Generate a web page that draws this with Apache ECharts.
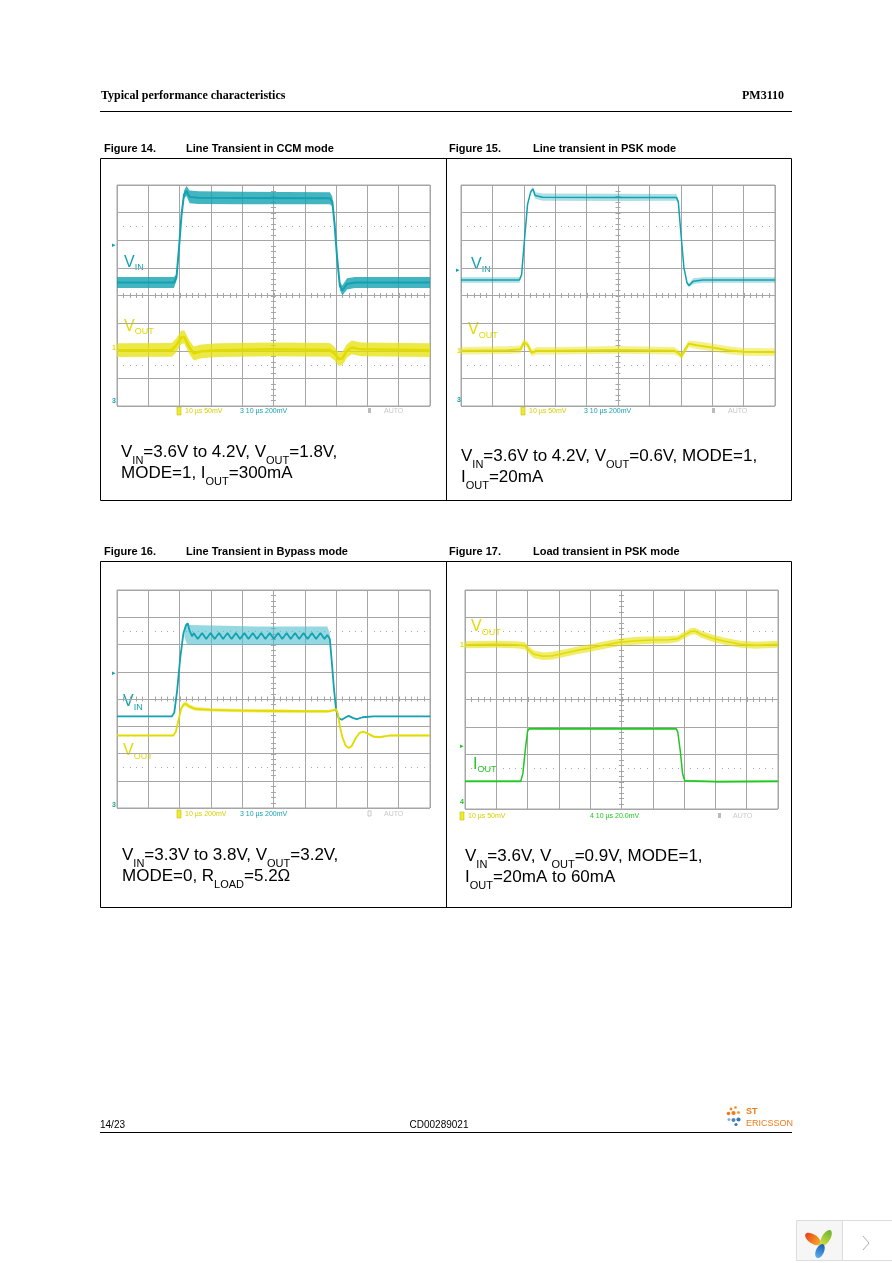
<!DOCTYPE html>
<html><head><meta charset="utf-8">
<script src="https://cdn.jsdelivr.net/npm/echarts@6/dist/echarts.min.js"></script>
<style>html,body{margin:0;padding:0;background:#fff}#c{width:892px;height:1263px}</style>
</head><body><div id="c"></div>
<script>
// ---------------- DATA (oscilloscope screen divisions: x 0..10, y 0..8) ----------------
// each point: [x, y, half-width of noise band]
const fig14Vin = [[0,4.47,0.2],[1.82,4.47,0.2],[1.9,4.65,0.12],[1.98,5.7,0.08],[2.06,6.9,0.08],[2.14,7.65,0.14],[2.22,7.78,0.18],[2.32,7.57,0.23],[2.6,7.54,0.23],[4,7.53,0.23],[6.8,7.52,0.22],[6.88,7.4,0.18],[6.95,6.6,0.08],[7.03,5.4,0.08],[7.12,4.35,0.14],[7.2,4.18,0.18],[7.35,4.42,0.2],[7.6,4.47,0.2],[10,4.47,0.2]];
const fig14Vout = [[0,2.02,0.25],[1.75,2.03,0.25],[1.9,2.2,0.25],[2.05,2.48,0.24],[2.15,2.5,0.24],[2.3,2.15,0.25],[2.45,1.9,0.25],[2.7,1.98,0.25],[3.2,2.02,0.25],[5,2.05,0.25],[6.8,2.03,0.25],[6.95,1.9,0.24],[7.08,1.7,0.24],[7.2,1.72,0.24],[7.35,2.0,0.24],[7.5,2.12,0.25],[7.8,2.05,0.25],[10,2.02,0.25]];
const fig15Vin = [[0,4.56,0.1],[1.86,4.56,0.1],[1.93,4.75,0.05],[2.02,6.0,0.03],[2.12,7.3,0.04],[2.22,7.75,0.06],[2.29,7.86,0.08],[2.36,7.62,0.12],[2.6,7.56,0.13],[5,7.55,0.13],[6.86,7.55,0.12],[6.92,7.4,0.06],[7.0,6.3,0.03],[7.1,5.0,0.03],[7.2,4.45,0.05],[7.26,4.36,0.07],[7.4,4.52,0.1],[7.7,4.56,0.1],[10,4.56,0.1]];
const fig15Vout = [[0,2.0,0.14],[1.5,2.02,0.14],[1.9,2.05,0.14],[2.0,2.3,0.12],[2.12,2.22,0.12],[2.25,1.92,0.12],[2.4,2.0,0.14],[3,2.0,0.14],[5,2.03,0.14],[6.8,2.0,0.14],[6.95,1.9,0.12],[7.02,1.8,0.12],[7.12,2.0,0.12],[7.25,2.25,0.12],[7.5,2.2,0.14],[8,2.12,0.14],[8.5,2.02,0.14],[9,1.96,0.14],[10,1.95,0.14]];
const fig16Vin = [[0,3.36,0],[1.75,3.36,0],[1.83,3.5,0],[1.92,4.3,0],[2.02,5.5,0],[2.12,6.4,0],[2.2,6.7,0],[2.26,6.78,0],[2.32,6.5,0],[2.4,6.3,0],
  [2.45,6.42,0],[2.58,6.2,0],[2.72,6.42,0],[2.85,6.2,0],[2.99,6.42,0],[3.12,6.2,0],[3.26,6.42,0],[3.39,6.2,0],[3.53,6.42,0],[3.66,6.2,0],
  [3.8,6.42,0],[3.93,6.2,0],[4.07,6.42,0],[4.2,6.2,0],[4.34,6.42,0],[4.47,6.2,0],[4.61,6.42,0],[4.74,6.2,0],[4.88,6.42,0],[5.01,6.2,0],
  [5.15,6.42,0],[5.28,6.2,0],[5.42,6.42,0],[5.55,6.2,0],[5.69,6.42,0],[5.82,6.2,0],[5.96,6.42,0],[6.09,6.2,0],[6.23,6.42,0],[6.36,6.2,0],
  [6.5,6.42,0],[6.63,6.2,0],[6.72,6.35,0],[6.8,6.2,0],[6.86,5.4,0],[6.93,4.4,0],[7.0,3.6,0],[7.08,3.3,0],[7.18,3.24,0],[7.3,3.32,0],
  [7.4,3.38,0],[7.55,3.3,0],[7.66,3.26,0],[7.85,3.33,0],[8.2,3.36,0],[10,3.36,0]];
const fig16VinBand = [[2.15,6.3,6.55],[2.22,6.05,6.8],[2.32,5.98,6.72],[4.5,5.98,6.66],[6.72,5.98,6.66],[6.8,6.05,6.4]]; // [x, low, high]
const fig16Vout = [[0,2.66,0.02],[1.8,2.66,0.02],[1.88,2.8,0.02],[1.96,3.2,0.02],[2.05,3.65,0.04],[2.13,3.8,0.08],[2.2,3.82,0.09],[2.32,3.72,0.08],[2.5,3.64,0.07],[3,3.6,0.06],[4,3.57,0.06],[5,3.56,0.06],[6,3.55,0.05],[6.75,3.55,0.05],[6.9,3.58,0.04],[7.0,3.63,0.03],[7.06,3.45,0.02],[7.12,3.0,0.02],[7.2,2.6,0.02],[7.3,2.3,0.02],[7.4,2.2,0.02],[7.5,2.27,0.02],[7.62,2.55,0.02],[7.75,2.76,0.03],[7.87,2.8,0.03],[8.0,2.74,0.03],[8.2,2.62,0.04],[8.4,2.6,0.04],[8.7,2.66,0.03],[10,2.66,0.03]];
const fig17Vout = [[0,6.0,0.13],[1.0,6.02,0.13],[1.6,6.0,0.13],[1.9,5.97,0.13],[2.05,5.8,0.13],[2.2,5.65,0.14],[2.5,5.58,0.14],[2.8,5.6,0.14],[3.2,5.7,0.14],[3.6,5.8,0.14],[4.0,5.88,0.14],[4.5,6.0,0.14],[5.0,6.1,0.14],[5.5,6.15,0.14],[6.0,6.17,0.13],[6.5,6.18,0.13],[6.8,6.22,0.12],[7.0,6.35,0.12],[7.2,6.48,0.12],[7.35,6.5,0.12],[7.55,6.38,0.12],[7.9,6.24,0.13],[8.3,6.13,0.13],[8.8,6.02,0.13],[9.3,5.98,0.13],[10,6.02,0.13]];
const fig17Iout = [[0,1.01,0.04],[1.78,1.01,0.04],[1.85,1.3,0.02],[1.93,2.2,0.02],[2.0,2.85,0.03],[2.05,2.93,0.04],[4,2.93,0.04],[5,2.93,0.04],[6.75,2.93,0.04],[6.8,2.8,0.02],[6.88,2.1,0.02],[6.95,1.3,0.02],[7.02,1.03,0.04],[8,1.0,0.04],[10,1.01,0.04]];

const figTitles = [['Figure 14.','Line Transient in CCM mode'],['Figure 15.','Line transient in PSK mode'],['Figure 16.','Line Transient in Bypass mode'],['Figure 17.','Load transient in PSK mode']];
const scopeScales = [['10 µs 50mV','3 10 µs 200mV'],['10 µs 50mV','3 10 µs 200mV'],['10 µs 200mV','3 10 µs 200mV'],['10 µs 50mV','4 10 µs 20.0mV']];

// ---------------- STYLE ----------------
const TEAL='#13a2b2', YEL='#e2db00', GRN='#22c722', GRIDC='#a6a6a6';
const SANS="'Liberation Sans', Arial, sans-serif";
const grids=[{left:117,top:185,width:313,height:221},{left:461,top:185,width:314,height:221},{left:117,top:590,width:313,height:218},{left:465,top:590,width:313,height:219}];

const xAxes=[],yAxes=[],series=[];
grids.forEach((g,i)=>{
  Object.assign(g,{show:true,borderColor:GRIDC,borderWidth:1,containLabel:false});
  xAxes.push({gridIndex:i,type:'value',min:0,max:10,interval:1,axisLabel:{show:false},axisTick:{show:false},axisLine:{show:false},splitLine:{lineStyle:{color:GRIDC,width:1}}});
  yAxes.push({gridIndex:i,type:'value',min:0,max:8,interval:1,axisLabel:{show:false},axisTick:{show:false},axisLine:{show:false},splitLine:{lineStyle:{color:GRIDC,width:1}}});
  series.push({type:'custom',xAxisIndex:i,yAxisIndex:i,data:[[5,4]],silent:true,z:1,clip:false,
    renderItem(params,api){
      const ch=[]; const c=api.coord([5,4]);
      for(let k=0;k<=50;k++){const p=api.coord([k*0.2,4]);const x=Math.round(p[0])+0.5;ch.push({type:'line',shape:{x1:x,y1:c[1]-2.5,x2:x,y2:c[1]+2.5},style:{stroke:GRIDC,lineWidth:1}});}
      for(let k=0;k<=40;k++){const p=api.coord([5,k*0.2]);const y=Math.round(p[1])+0.5;ch.push({type:'line',shape:{x1:c[0]-2.5,y1:y,x2:c[0]+2.5,y2:y},style:{stroke:GRIDC,lineWidth:1}});}
      [1.5,6.5].forEach(yy=>{for(let k=1;k<50;k++){if(k%5===0)continue;const p=api.coord([k*0.2,yy]);ch.push({type:'rect',shape:{x:Math.round(p[0]),y:Math.round(p[1]),width:1,height:1},style:{fill:GRIDC}});}});
      return {type:'group',children:ch};
    }});
});

// noise band: polygon between low and high envelopes, placed through the axes' scales
function addBand(gi,env,color){
  series.push({type:'custom',xAxisIndex:gi,yAxisIndex:gi,silent:true,z:3,clip:true,
    data:env.map(p=>[p[0],p[1],p[2]]),
    renderItem(params,api){
      if(params.dataIndex!==0) return null;
      const top=env.map(p=>api.coord([p[0],p[2]]));
      const bot=env.map(p=>api.coord([p[0],p[1]])).reverse();
      return {type:'polygon',shape:{points:top.concat(bot)},style:{fill:color}};
    }});
}
function addTrace(gi,pts,color,bandColor,w){
  if(bandColor) addBand(gi,pts.map(p=>[p[0],p[1]-p[2],p[1]+p[2]]),bandColor);
  series.push({type:'line',xAxisIndex:gi,yAxisIndex:gi,symbol:'none',silent:true,z:4,data:pts.map(p=>[p[0],p[1]]),lineStyle:{color:color,width:w}});
}
addTrace(0,fig14Vin,TEAL,'rgba(19,162,178,0.8)',2);
addTrace(0,fig14Vout,YEL,'rgba(230,225,10,0.75)',2.5);
addTrace(1,fig15Vin,TEAL,'rgba(19,162,178,0.35)',1.5);
addTrace(1,fig15Vout,YEL,'rgba(230,225,10,0.45)',2);
addBand(2,fig16VinBand,'rgba(80,190,205,0.6)');
addTrace(2,fig16Vin,TEAL,null,1.8);
addTrace(2,fig16Vout,YEL,'rgba(230,225,10,0.6)',1.8);
addTrace(3,fig17Vout,YEL,'rgba(230,225,10,0.6)',1.5);
addTrace(3,fig17Iout,GRN,'rgba(34,199,34,0.5)',1.5);

// ---------------- GRAPHIC TEXT / FRAMES ----------------
const G=[];
function txt(x,y,text,font,fill,align,extra){G.push(Object.assign({type:'text',x:x,y:y,silent:true,style:{text:text,font:font,fill:fill||'#000',align:align||'left',verticalAlign:'middle'}},extra||{}));}
function line(x1,y1,x2,y2,c,w){G.push({type:'line',silent:true,shape:{x1,y1,x2,y2},style:{stroke:c||'#000',lineWidth:w||1}});}
function sub(x,y,parts,size,subSize,color,lh,slh){
  G.push({type:'text',x:x,y:y,silent:true,style:{text:parts.map(p=>'{'+(p[1]?'s':'m')+'|'+p[0]+'}').join(''),fill:color,align:'left',verticalAlign:'top',
    rich:{m:{fontSize:size,fontFamily:SANS,fill:color,lineHeight:lh,verticalAlign:'top'},s:{fontSize:subSize,fontFamily:SANS,fill:color,lineHeight:slh,verticalAlign:'bottom'}}}});
}
// header / footer
txt(101,96,'Typical performance characteristics',"bold 12px 'Liberation Serif', 'Times New Roman', serif");
txt(784,96,'PM3110',"bold 12px 'Liberation Serif', 'Times New Roman', serif",'#000','right');
line(100,111.5,792,111.5);
txt(100,1125,'14/23','10px '+SANS);
txt(439,1125,'CD00289021','10px '+SANS,'#000','center');
line(100,1132.5,792,1132.5);
// figure titles
[[104,186,149,0],[449,533,149,1],[104,186,552,2],[449,533,552,3]].forEach(a=>{
  txt(a[0],a[2],figTitles[a[3]][0],'bold 11px '+SANS);
  txt(a[1],a[2],figTitles[a[3]][1],'bold 11px '+SANS);
});
// frames
[[158,500],[561,907]].forEach(r=>{
  G.push({type:'rect',silent:true,shape:{x:100.5,y:r[0]+0.5,width:691,height:r[1]-r[0]},style:{fill:'none',stroke:'#000',lineWidth:1}});
  line(446.5,r[0],446.5,r[1]);
});
// captions
const CAP=17, CS=11, SLH=15;
sub(121,444,[['V'],['IN',1],['=3.6V to 4.2V, V'],['OUT',1],['=1.8V,']],CAP,CS,'#000',22,SLH);
sub(121,465,[['MODE=1, I'],['OUT',1],['=300mA']],CAP,CS,'#000',22,SLH);
sub(461,448,[['V'],['IN',1],['=3.6V to 4.2V, V'],['OUT',1],['=0.6V, MODE=1,']],CAP,CS,'#000',22,SLH);
sub(461,469,[['I'],['OUT',1],['=20mA']],CAP,CS,'#000',22,SLH);
sub(122,847,[['V'],['IN',1],['=3.3V to 3.8V, V'],['OUT',1],['=3.2V,']],CAP,CS,'#000',22,SLH);
sub(122,868,[['MODE=0, R'],['LOAD',1],['=5.2Ω']],CAP,CS,'#000',22,SLH);
sub(465,848,[['V'],['IN',1],['=3.6V, V'],['OUT',1],['=0.9V, MODE=1,']],CAP,CS,'#000',22,SLH);
sub(465,869,[['I'],['OUT',1],['=20mA to 60mA']],CAP,CS,'#000',22,SLH);
// trace labels
sub(124,254.5,[['V'],['IN',1]],16,9,TEAL,18,7);
sub(124,318.5,[['V'],['OUT',1]],16,9,YEL,18,7);
sub(471,256.5,[['V'],['IN',1]],16,9,TEAL,18,7);
sub(468,322,[['V'],['OUT',1]],16,9,YEL,18,7);
sub(123,694,[['V'],['IN',1]],16,9,TEAL,18,7);
sub(123,743,[['V'],['OUT',1]],16,9,YEL,18,7);
sub(471,619,[['V'],['OUT',1]],16,9,YEL,18,7);
sub(473,756.5,[['I'],['OUT',1]],16,9,GRN,18,7);
// scope readouts
const SF='7px '+SANS;
function readout(x0,y,i,c2,sqFill){
  G.push({type:'rect',silent:true,shape:{x:x0,y:y-4,width:4,height:8},style:{fill:'#f0ea30',stroke:'#c8c000',lineWidth:0.6}});
  txt(x0+8,y,scopeScales[i][0],SF,'#d6ce00');
  txt(x0+63,y,scopeScales[i][1],SF,c2);
  G.push({type:'rect',silent:true,shape:{x:x0+191,y:y-3,width:3,height:5},style:sqFill?{fill:'#bbb'}:{fill:'none',stroke:'#bbb',lineWidth:0.8}});
  txt(x0+207,y,'AUTO',SF,'#c8c8c8');
}
readout(177,411,0,TEAL,true);
readout(521,411,1,TEAL,true);
readout(177,814,2,TEAL,false);
G.push({type:'rect',silent:true,shape:{x:460,y:812,width:4,height:8},style:{fill:'#f0ea30',stroke:'#c8c000',lineWidth:0.6}});
txt(468,816,scopeScales[3][0],SF,'#d6ce00');
txt(590,816,scopeScales[3][1],SF,GRN);
G.push({type:'rect',silent:true,shape:{x:718,y:813,width:3,height:5},style:{fill:'#bbb'}});
txt(733,816,'AUTO',SF,'#c8c8c8');
// channel ground markers
const MF='bold 7px '+SANS;
txt(114,348,'1',MF,YEL,'center'); txt(114,401,'3',MF,TEAL,'center'); txt(114,245,'▸','7px '+SANS,TEAL,'center');
txt(459,351,'1',MF,YEL,'center'); txt(459,400,'3',MF,TEAL,'center'); txt(458,270,'▸','7px '+SANS,TEAL,'center');
txt(114,805,'3',MF,'#1aa87a','center'); txt(114,673,'▸','7px '+SANS,TEAL,'center');
txt(462,645,'1',MF,YEL,'center'); txt(462,802,'4',MF,GRN,'center'); txt(462,746,'▸','7px '+SANS,GRN,'center');
// ST-Ericsson logo
[[731,1109,1.4,'#f08a24'],[735.5,1107.5,1.3,'#f08a24'],[728.5,1113.5,1.8,'#f07a1a'],[733.5,1113,2.1,'#f07a1a'],[738.5,1112.5,1.6,'#f5a040'],
 [729,1119.5,1.5,'#8fb0d0'],[733.5,1120,2.0,'#4a86c0'],[738.5,1119.5,2.1,'#3a78b8'],[736,1124.5,1.6,'#3a78b8']].forEach(d=>{
  G.push({type:'circle',silent:true,shape:{cx:d[0],cy:d[1],r:d[2]},style:{fill:d[3]}});
});
txt(746,1112,'ST','bold 9px '+SANS,'#f07a1a');
txt(746,1123.5,'ERICSSON','9px '+SANS,'#f07a1a');
// viewer widget (bottom-right)
G.push({type:'rect',silent:true,shape:{x:796.5,y:1220.5,width:46,height:40},style:{fill:'#f6f6f6',stroke:'#dcdcdc',lineWidth:1}});
G.push({type:'rect',silent:true,shape:{x:842.5,y:1220.5,width:52,height:40},style:{fill:'#fff',stroke:'#dcdcdc',lineWidth:1}});
G.push({type:'polyline',silent:true,shape:{points:[[863,1236],[869,1243],[863,1250]]},style:{stroke:'#b0b0b0',lineWidth:1,fill:'none'}});
G.push({type:'ellipse',silent:true,x:813,y:1239,rotation:-0.6,shape:{cx:0,cy:0,rx:9,ry:4.5},style:{fill:{type:'linear',x:0,y:0,x2:1,y2:0,colorStops:[{offset:0,color:'#e8401c'},{offset:1,color:'#f7b02a'}]}}});
G.push({type:'ellipse',silent:true,x:826,y:1238,rotation:1.05,shape:{cx:0,cy:0,rx:9,ry:4.2},style:{fill:{type:'linear',x:0,y:0,x2:1,y2:0,colorStops:[{offset:0,color:'#d8e040'},{offset:1,color:'#6ab22e'}]}}});
G.push({type:'ellipse',silent:true,x:820,y:1251,rotation:1.15,shape:{cx:0,cy:0,rx:7.5,ry:4},style:{fill:{type:'linear',x:0,y:0,x2:1,y2:0,colorStops:[{offset:0,color:'#5ab0f0'},{offset:1,color:'#1a5cb0'}]}}});

const chart=echarts.init(document.getElementById('c'),null,{renderer:'canvas'});
chart.setOption({animation:false,backgroundColor:'#fff',grid:grids,xAxis:xAxes,yAxis:yAxes,series:series,graphic:G});
</script></body></html>
